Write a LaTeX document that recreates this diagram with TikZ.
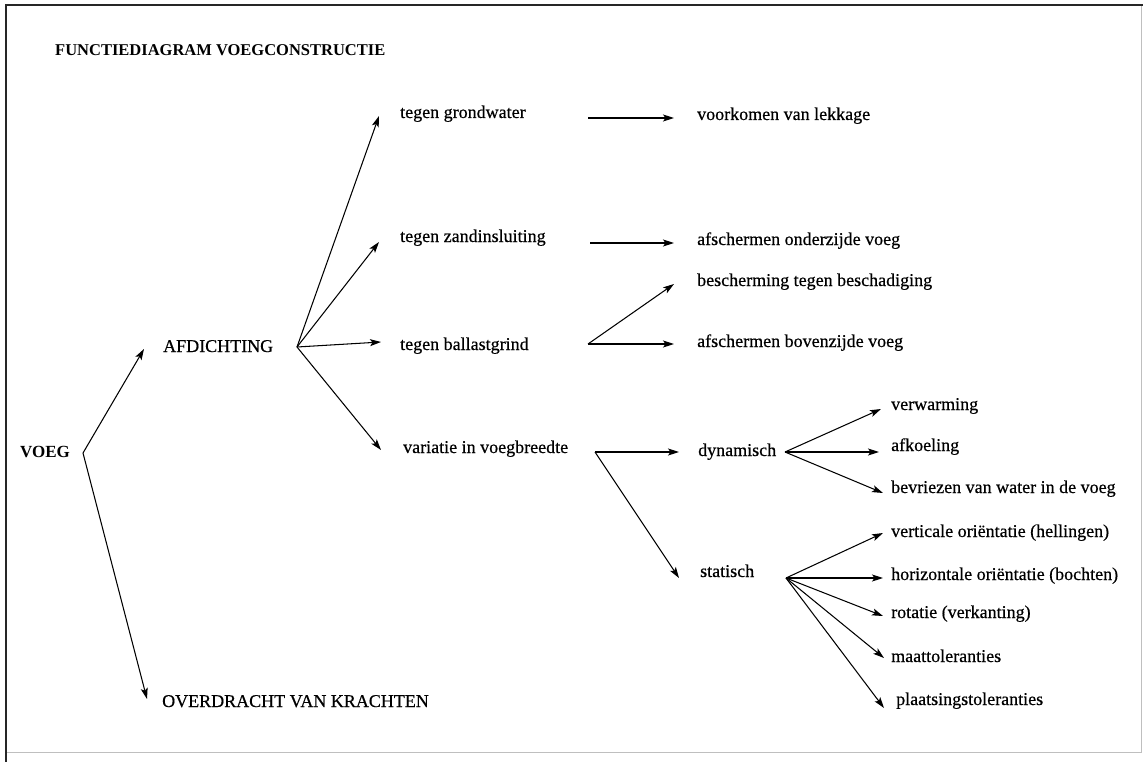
\documentclass[tikz,border=0pt]{standalone}
\usepackage{fontspec}
\setmainfont{Liberation Serif}
\newfontfamily\medfont{Liberation Serif}[FakeBold=0.5]
\usetikzlibrary{arrows.meta}
\begin{document}
\begin{tikzpicture}[x=1pt,y=-1pt,
  lbl/.style={anchor=base west,inner sep=0pt,font=\medfont\fontsize{18}{20}\selectfont},
  ttl/.style={anchor=base west,inner sep=0pt,font=\fontsize{16.5}{18}\selectfont\bfseries},
  arr/.style={line width=1.05pt,-{Stealth[length=11pt,width=7pt,inset=2.5pt]}}]
\useasboundingbox (0,0) rectangle (1143,762);
\fill[white] (0,0) rectangle (1143,762);
% frame
\draw[line width=0.8pt,black!25] (1141,5) -- (1141,752) -- (7,752);
\draw[line width=2.6pt,black!85] (1143,5) -- (6,5) -- (6,762);
% texts
\node[ttl] (title) at (55,56) {FUNCTIEDIAGRAM VOEGCONSTRUCTIE};
\node[ttl,font=\fontsize{17}{19}\selectfont\bfseries] (voeg) at (20,457) {VOEG};
\node[lbl] (afd) at (163,352) {AFDICHTING};
\node[lbl] (ovk) at (162,707) {OVERDRACHT VAN KRACHTEN};
\node[lbl] (grond) at (400,118) {tegen grondwater};
\node[lbl] (zand) at (400,242) {tegen zandinsluiting};
\node[lbl] (ball) at (400,350) {tegen ballastgrind};
\node[lbl] (var) at (403,453) {variatie in voegbreedte};
\node[lbl] (lek) at (697,120) {voorkomen van lekkage};
\node[lbl] (ond) at (697,245) {afschermen onderzijde voeg};
\node[lbl] (besch) at (697,286) {bescherming tegen beschadiging};
\node[lbl] (bov) at (697,347) {afschermen bovenzijde voeg};
\node[lbl] (dyn) at (698,456) {dynamisch};
\node[lbl] (stat) at (700,577) {statisch};
\node[lbl] (verw) at (891,410) {verwarming};
\node[lbl] (afk) at (891,451) {afkoeling};
\node[lbl] (bevr) at (891,493) {bevriezen van water in de voeg};
\node[lbl] (vert) at (891,537) {verticale oriëntatie (hellingen)};
\node[lbl] (hor) at (891,580) {horizontale oriëntatie (bochten)};
\node[lbl] (rot) at (891,618) {rotatie (verkanting)};
\node[lbl] (maat) at (891,662) {maattoleranties};
\node[lbl] (plaats) at (896,705) {plaatsingstoleranties};
% branch points
\coordinate (bVoeg) at (83,453);
\coordinate (bAfd) at (297,347);
\coordinate (bGrond) at (588,118);
\coordinate (bZand) at (590,243);
\coordinate (bBall) at (588,344);
\coordinate (bVar) at (595,452);
\coordinate (bDyn) at (785,452);
\coordinate (bStat) at (786,578);
% arrow tips
\coordinate (tAfd) at (144,349);
\coordinate (tOvk) at (147,699);
\coordinate (tGrond) at (379,116);
\coordinate (tZand) at (379,242);
\coordinate (tBall) at (381,342);
\coordinate (tVar) at (381,450);
\coordinate (tLek) at (674,118);
\coordinate (tOnd) at (674,243);
\coordinate (tBesch) at (674,284);
\coordinate (tBov) at (674,344);
\coordinate (tDyn) at (679,452);
\coordinate (tStat) at (679,578);
\coordinate (tVerw) at (881,409);
\coordinate (tAfk) at (879,452);
\coordinate (tBevr) at (883,493);
\coordinate (tVert) at (883,533);
\coordinate (tHor) at (883,578);
\coordinate (tRot) at (883,616);
\coordinate (tMaat) at (884,658);
\coordinate (tPlaats) at (884,708);
% connectors
\draw[arr] (bVoeg) -- (tAfd);
\draw[arr] (bVoeg) -- (tOvk);
\draw[arr] (bAfd) -- (tGrond);
\draw[arr] (bAfd) -- (tZand);
\draw[arr] (bAfd) -- (tBall);
\draw[arr] (bAfd) -- (tVar);
\draw[arr] (bGrond) -- (tLek);
\draw[arr] (bZand) -- (tOnd);
\draw[arr] (bBall) -- (tBesch);
\draw[arr] (bBall) -- (tBov);
\draw[arr] (bVar) -- (tDyn);
\draw[arr] (bVar) -- (tStat);
\draw[arr] (bDyn) -- (tVerw);
\draw[arr] (bDyn) -- (tAfk);
\draw[arr] (bDyn) -- (tBevr);
\draw[arr] (bStat) -- (tVert);
\draw[arr] (bStat) -- (tHor);
\draw[arr] (bStat) -- (tRot);
\draw[arr] (bStat) -- (tMaat);
\draw[arr] (bStat) -- (tPlaats);
\end{tikzpicture}
\end{document}
